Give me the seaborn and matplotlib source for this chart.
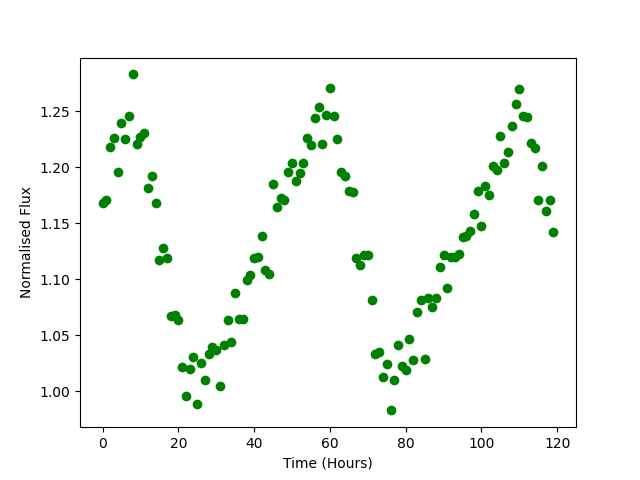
import numpy as np
import pandas as pd
import matplotlib
matplotlib.use("Agg")
import matplotlib.pyplot as plt
import seaborn as sns

# hourly samples of normalised flux
hours = list(range(120))
flux = [
    1.168, 1.171, 1.218, 1.226, 1.196, 1.240, 1.225, 1.246, 1.283, 1.221,
    1.227, 1.231, 1.182, 1.192, 1.168, 1.117, 1.128, 1.119, 1.067, 1.068,
    1.064, 1.022, 0.996, 1.020, 1.031, 0.989, 1.025, 1.010, 1.033, 1.040,
    1.037, 1.005, 1.041, 1.064, 1.044, 1.088, 1.065, 1.065, 1.099, 1.104,
    1.119, 1.120, 1.139, 1.108, 1.105, 1.185, 1.165, 1.173, 1.171, 1.196,
    1.204, 1.188, 1.195, 1.204, 1.226, 1.220, 1.244, 1.254, 1.221, 1.247,
    1.271, 1.246, 1.225, 1.196, 1.192, 1.179, 1.178, 1.119, 1.113, 1.122,
    1.122, 1.082, 1.033, 1.035, 1.013, 1.024, 0.983, 1.010, 1.041, 1.023,
    1.019, 1.047, 1.028, 1.071, 1.082, 1.029, 1.083, 1.075, 1.083, 1.111,
    1.122, 1.092, 1.120, 1.120, 1.123, 1.138, 1.139, 1.143, 1.158, 1.179,
    1.148, 1.183, 1.175, 1.201, 1.198, 1.228, 1.204, 1.214, 1.237, 1.257,
    1.270, 1.246, 1.245, 1.222, 1.217, 1.171, 1.201, 1.161, 1.171, 1.142,
]

df = pd.DataFrame({"Time": hours, "Flux": flux})

fig, ax = plt.subplots(figsize=(6.4, 4.8), dpi=100)
sns.scatterplot(data=df, x="Time", y="Flux", color="green", s=49,
                linewidth=0, ax=ax)
ax.set_xlabel("Time (Hours)")
ax.set_ylabel("Normalised Flux")
fig.savefig("out.png", dpi=100)
